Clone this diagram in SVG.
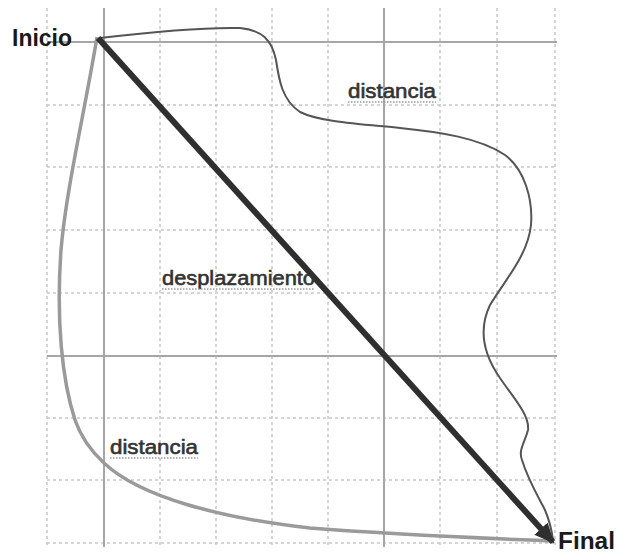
<svg xmlns="http://www.w3.org/2000/svg" width="618" height="553" viewBox="0 0 618 553">
<style>
.dot{stroke:#c8c8c8;stroke-width:1.5;stroke-dasharray:3,3;fill:none}
.axis{stroke:#a6a6a6;stroke-width:2;fill:none}
.lbl{font-family:"Liberation Sans",Arial,sans-serif;font-size:20px;fill:#333;stroke:#333;stroke-width:0.6}
.big{font-family:"Liberation Sans",Arial,sans-serif;font-size:24px;font-weight:bold;fill:#1a1a1a}
.ul{stroke:#9a9a9a;stroke-width:1.5;stroke-dasharray:1.5,1.5}
</style>
<defs>
<marker id="ah" markerUnits="userSpaceOnUse" markerWidth="22" markerHeight="18" refX="18" refY="9" orient="auto">
<path d="M0,0 L20,9 L0,18 Z" fill="#2f2f2f"/>
</marker>
</defs>
<rect width="618" height="553" fill="#fff"/>
<g id="grid">
<line class="dot" x1="47" y1="8" x2="47" y2="547"/>
<line class="dot" x1="160" y1="8" x2="160" y2="547"/>
<line class="dot" x1="216" y1="8" x2="216" y2="547"/>
<line class="dot" x1="272" y1="8" x2="272" y2="547"/>
<line class="dot" x1="328" y1="8" x2="328" y2="547"/>
<line class="dot" x1="440" y1="8" x2="440" y2="547"/>
<line class="dot" x1="497" y1="8" x2="497" y2="547"/>
<line class="dot" x1="555" y1="8" x2="555" y2="547"/>
<line class="dot" x1="47" y1="105" x2="557" y2="105"/>
<line class="dot" x1="47" y1="167" x2="557" y2="167"/>
<line class="dot" x1="47" y1="230" x2="557" y2="230"/>
<line class="dot" x1="47" y1="293" x2="557" y2="293"/>
<line class="dot" x1="47" y1="418" x2="557" y2="418"/>
<line class="dot" x1="47" y1="480" x2="557" y2="480"/>
<line class="dot" x1="47" y1="543" x2="557" y2="543"/>
<line class="axis" x1="104" y1="8" x2="104" y2="547"/>
<line class="axis" x1="384" y1="8" x2="384" y2="547"/>
<line class="axis" x1="47" y1="42" x2="557" y2="42"/>
<line class="axis" x1="47" y1="356" x2="557" y2="356"/>
</g>
<g id="connectors">
<path id="distancia-inferior" d="M97,37 C 85,110 66,190 61,250 C 56,320 62,380 75,420 C 82,440 92,452 104,463 C 140,497 220,518 310,528 C 400,535 480,538 553,541" fill="none" stroke="#9a9a9a" stroke-width="3.5"/>
<path id="distancia-superior" d="M100,38 C 150,32 200,27 240,28 C 262,30 272,40 276,60 C 279,80 282,100 300,112 C 320,122 360,124 400,128 C 440,132 480,138 505,155 C 525,170 533,200 531,225 C 528,255 505,280 490,305 C 478,330 484,355 500,378 C 512,396 530,415 528,430 C 525,442 518,450 522,460 C 528,480 540,500 545,510 C 550,522 552,532 553,540" fill="none" stroke="#555" stroke-width="2"/>
<line id="desplazamiento" x1="98" y1="38" x2="553" y2="542" stroke="#2f2f2f" stroke-width="6" marker-end="url(#ah)"/>
</g>
<g id="inicio"><text class="big" x="12" y="46" textLength="60" lengthAdjust="spacingAndGlyphs">Inicio</text></g>
<g id="final"><text class="big" x="558" y="549" textLength="57" lengthAdjust="spacingAndGlyphs">Final</text></g>
<g id="label-distancia-sup">
<text class="lbl" x="348" y="98" textLength="88" lengthAdjust="spacingAndGlyphs">distancia</text>
<line class="ul" x1="348" y1="102" x2="436" y2="102"/>
</g>
<g id="label-desplazamiento">
<text class="lbl" x="162" y="285" textLength="153" lengthAdjust="spacingAndGlyphs">desplazamiento</text>
<line class="ul" x1="162" y1="289" x2="315" y2="289"/>
</g>
<g id="label-distancia-inf">
<text class="lbl" x="110" y="454" textLength="88" lengthAdjust="spacingAndGlyphs">distancia</text>
<line class="ul" x1="110" y1="458" x2="198" y2="458"/>
</g>
</svg>
